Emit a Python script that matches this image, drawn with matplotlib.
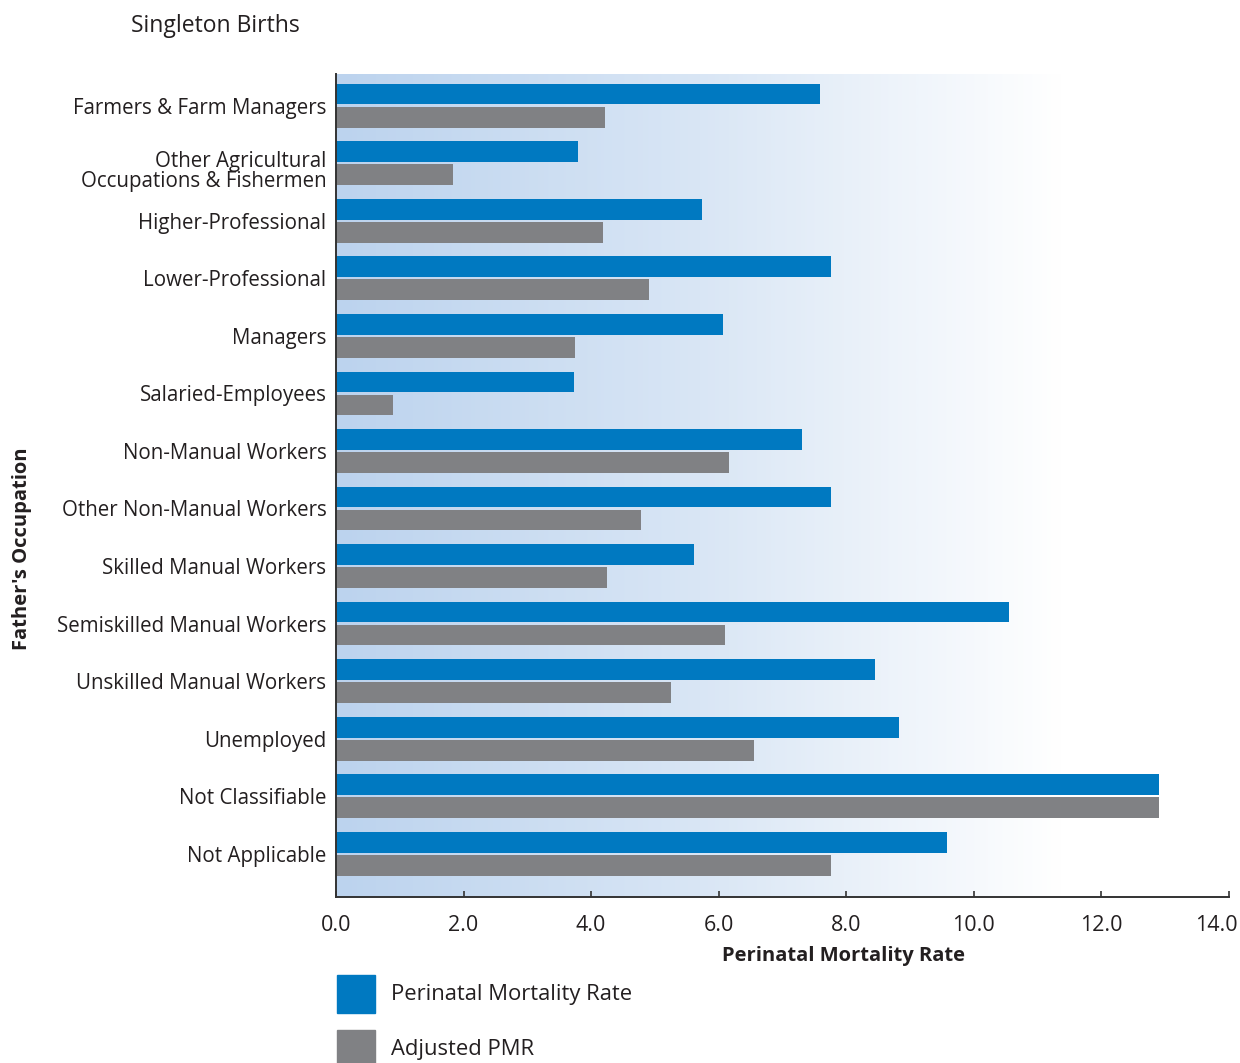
import matplotlib
matplotlib.use("Agg")
import matplotlib.pyplot as plt
import matplotlib.transforms as mtransforms
import numpy as np
from matplotlib.colors import LinearSegmentedColormap
from matplotlib.patches import Rectangle

plt.rcParams["font.family"] = ["Open Sans", "DejaVu Sans"]

occupations = [
    "Farmers & Farm Managers",
    "Other Agricultural\nOccupations & Fishermen",
    "Higher-Professional",
    "Lower-Professional",
    "Managers",
    "Salaried-Employees",
    "Non-Manual Workers",
    "Other Non-Manual Workers",
    "Skilled Manual Workers",
    "Semiskilled Manual Workers",
    "Unskilled Manual Workers",
    "Unemployed",
    "Not Classifiable",
    "Not Applicable",
]
pmr = [7.59, 3.79, 5.74, 7.76, 6.07, 3.73, 7.30, 7.76, 5.61, 10.55, 8.45, 8.82, 12.90, 9.58]
adjusted_pmr = [4.22, 1.83, 4.18, 4.91, 3.75, 0.89, 6.16, 4.78, 4.25, 6.10, 5.25, 6.55, 12.90, 7.76]
xticks = [0, 2, 4, 6, 8, 10, 12, 14]

BLUE = "#0079c1"
GREY = "#808184"
TEXT = "#231f20"

fig = plt.figure(figsize=(12.4, 10.63), dpi=100)
ax = fig.add_axes([0.271, 0.1562, 0.72, 0.7742])

n = len(occupations)
y = np.arange(n)
ax.set_xlim(0, 14)
ax.set_ylim(n - 0.25, -0.55)

# background gradient: light blue at left fading to white
grad = LinearSegmentedColormap.from_list("bg", ["#bcd3ee", "#d9e6f5", "#ffffff"])
g = np.linspace(0, 1, 512).reshape(1, -1)
g = np.clip(g * 14 / 11.4, 0, 1)
ax.imshow(grad(g), extent=(0, 14, n - 0.25, -0.55), aspect="auto", zorder=0,
          interpolation="bilinear")

h = 0.36
ax.barh(y - 0.2, pmr, height=h, color=BLUE, zorder=2)
ax.barh(y + 0.2, adjusted_pmr, height=h, color=GREY, zorder=2)

ax.set_yticks(y)
ax.set_yticklabels(occupations, fontsize=14.8, color=TEXT, linespacing=0.98)
ax.tick_params(axis="y", length=0, pad=7)
# two-line label sits a little lower than its bars
lab = ax.get_yticklabels()[1]
lab.set_transform(lab.get_transform() + mtransforms.ScaledTranslation(0, -6 / 100, fig.dpi_scale_trans))

ax.set_xticks(xticks)
ax.set_xticklabels([f"{v:.1f}" for v in xticks], fontsize=15.5, color=TEXT)
ax.tick_params(axis="x", direction="in", length=4, width=1.2, color="#333333", pad=13)
last = ax.get_xticklabels()[-1]
last.set_transform(last.get_transform() + mtransforms.ScaledTranslation(-12 / 100, 0, fig.dpi_scale_trans))

for side in ("top", "right"):
    ax.spines[side].set_visible(False)
for side in ("left", "bottom"):
    ax.spines[side].set_linewidth(1.4)
    ax.spines[side].set_color("#333333")

fig.text(0.68, 0.101, "Perinatal Mortality Rate", fontsize=14.5, fontweight="bold",
         color=TEXT, ha="center", va="center")
fig.text(0.018, 0.484, "Father's Occupation", fontsize=14.5, fontweight="bold",
         color=TEXT, ha="center", va="center", rotation=90)
fig.text(0.106, 0.976, "Singleton Births", fontsize=16.5, color=TEXT, ha="left", va="center")

# legend drawn as squares with labels
for yy, col, lab in [(0.0645, BLUE, "Perinatal Mortality Rate"), (0.0130, GREY, "Adjusted PMR")]:
    fig.patches.append(Rectangle((0.2718, yy - 0.0178), 0.0306, 0.0357, color=col,
                                 transform=fig.transFigure, figure=fig))
    fig.text(0.315, yy, lab, fontsize=15.8, color=TEXT, ha="left", va="center")

fig.savefig("out.png", dpi=100)
